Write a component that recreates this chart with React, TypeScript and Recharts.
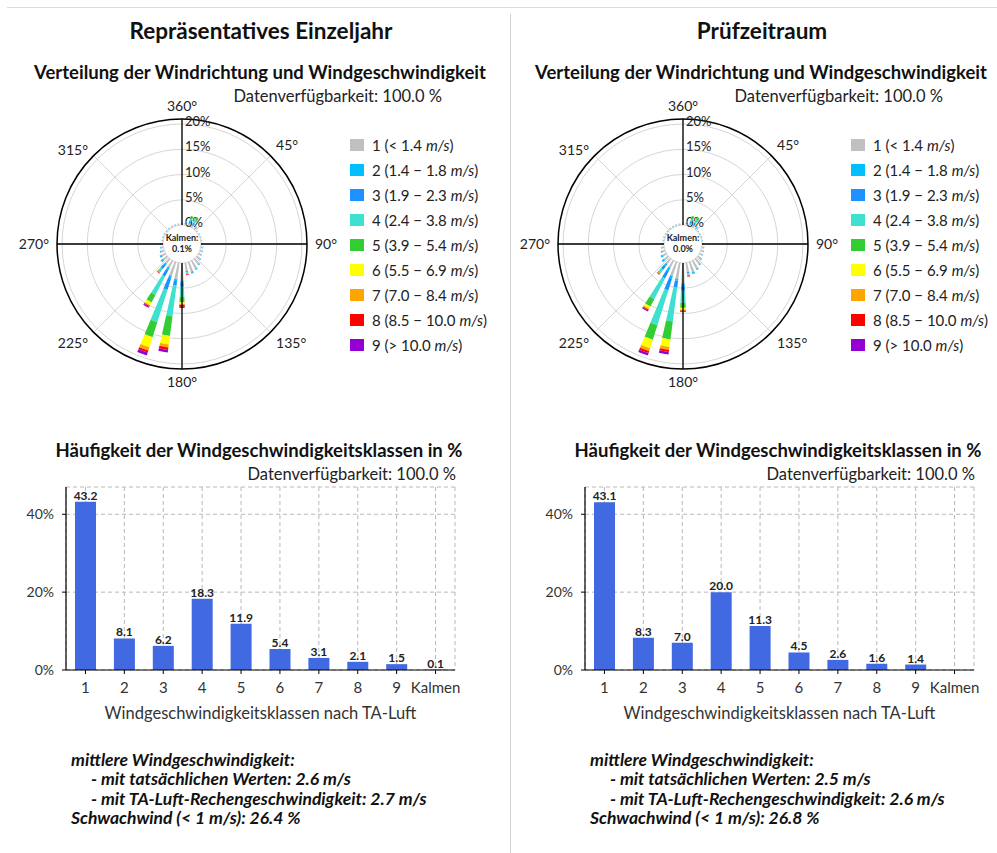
import React from 'react';
import {
  RadialBarChart, RadialBar, RadarChart, Radar, PolarAngleAxis, PolarRadiusAxis, PolarGrid,
  BarChart, Bar, XAxis, YAxis, CartesianGrid, LabelList,
} from 'recharts';

const FONT = 'Lato, "Open Sans", sans-serif';

const directions = [10, 20, 30, 40, 50, 60, 70, 80, 90, 100, 110, 120, 130, 140, 150, 160, 170, 180,
  190, 200, 210, 220, 230, 240, 250, 260, 270, 280, 290, 300, 310, 320, 330, 340, 350, 360];
const compassLabels = ['360°', '45°', '90°', '135°', '180°', '225°', '270°', '315°'];
const crossLabels = ['N', 'O', 'S', 'W'];
const radiusTicks = [0, 5, 10, 15, 20];
const classColors = ['#c0c0c0', '#00bfff', '#1e90ff', '#40e0d0', '#32cd32', '#ffff00', '#ffa500', '#ff0000', '#9400d3'];
const classRanges = ['< 1.4', '1.4 \u2212 1.8', '1.9 \u2212 2.3', '2.4 \u2212 3.8', '3.9 \u2212 5.4',
  '5.5 \u2212 6.9', '7.0 \u2212 8.4', '8.5 \u2212 10.0', '> 10.0'];
const classLabels = ['1', '2', '3', '4', '5', '6', '7', '8', '9', 'Kalmen'];

// Repräsentatives Einzeljahr: % per 10° sector and speed class
const ejS1 = [0.3, 0.4, 0.4, 0.3, 0.2, 0.2, 0.2, 0.2, 0.3, 0.4, 0.5, 0.6, 0.9, 1.4, 1.8, 2.0, 1.6, 3.5, 3.3, 2.9, 1.5, 1.2, 1.0, 0.8, 0.6, 0.5, 0.4, 0.3, 0.3, 0.3, 0.3, 0.3, 0.3, 0.3, 0.3, 0.3];
const ejS2 = [0.1, 0.2, 0.2, 0.1, 0.05, 0.05, 0.05, 0.05, 0.05, 0.1, 0.1, 0.1, 0.1, 0.15, 0.15, 0.2, 0.1, 0.4, 0.4, 0.5, 0.6, 0.5, 0.3, 0.3, 0.2, 0.1, 0.1, 0.05, 0.05, 0.05, 0.05, 0.05, 0.05, 0.05, 0.05, 0.05];
const ejS3 = [0.2, 0.4, 0.4, 0.1, 0, 0, 0, 0, 0, 0, 0, 0, 0.05, 0.05, 0.1, 0.1, 0.2, 0.8, 0.9, 2.4, 1.4, 0.8, 0.2, 0.15, 0.05, 0, 0, 0, 0, 0, 0, 0, 0, 0, 0, 0.05];
const ejS4 = [0.2, 0.6, 0.8, 0.2, 0, 0, 0, 0, 0, 0, 0, 0, 0, 0, 0, 0.05, 0.2, 2.0, 6.1, 6.7, 4.1, 0.6, 0.1, 0, 0, 0, 0, 0, 0, 0, 0, 0, 0, 0, 0, 0.05];
const ejS5 = [0.05, 0.5, 0.5, 0.05, 0, 0, 0, 0, 0, 0, 0, 0, 0, 0, 0, 0, 0, 1.1, 3.9, 3.1, 1.7, 0.2, 0, 0, 0, 0, 0, 0, 0, 0, 0, 0, 0, 0, 0, 0];
const ejS6 = [0, 0.05, 0.05, 0, 0, 0, 0, 0, 0, 0, 0, 0, 0, 0, 0, 0, 0, 0.3, 1.7, 2.1, 0.6, 0, 0, 0, 0, 0, 0, 0, 0, 0, 0, 0, 0, 0, 0, 0];
const ejS7 = [0, 0, 0, 0, 0, 0, 0, 0, 0, 0, 0, 0, 0, 0, 0, 0, 0.2, 0.2, 0.6, 0.7, 0.2, 0.2, 0, 0, 0, 0, 0, 0, 0, 0, 0, 0, 0, 0, 0, 0];
const ejS8 = [0, 0, 0, 0, 0, 0, 0, 0, 0, 0, 0, 0, 0, 0, 0, 0.05, 0.2, 0.4, 0.5, 0.4, 0.2, 0.1, 0, 0, 0, 0, 0, 0, 0, 0, 0, 0, 0, 0, 0, 0];
const ejS9 = [0, 0, 0, 0, 0, 0, 0, 0, 0, 0, 0, 0, 0, 0, 0, 0, 0, 0.2, 0.5, 0.6, 0.2, 0.05, 0, 0, 0, 0, 0, 0, 0, 0, 0, 0, 0, 0, 0, 0];
const ejFreq = [43.2, 8.1, 6.2, 18.3, 11.9, 5.4, 3.1, 2.1, 1.5, 0.1];

// Prüfzeitraum
const pzS1 = [0.3, 0.4, 0.4, 0.3, 0.2, 0.2, 0.2, 0.2, 0.3, 0.4, 0.5, 0.6, 0.9, 1.4, 1.8, 2.1, 1.8, 4.0, 3.2, 2.9, 1.6, 1.3, 1.0, 0.8, 0.6, 0.5, 0.4, 0.3, 0.3, 0.3, 0.3, 0.3, 0.3, 0.3, 0.3, 0.3];
const pzS2 = [0.1, 0.2, 0.2, 0.1, 0.05, 0.05, 0.05, 0.05, 0.05, 0.1, 0.1, 0.1, 0.1, 0.15, 0.15, 0.2, 0.1, 0.5, 0.4, 0.5, 0.7, 0.5, 0.3, 0.3, 0.2, 0.1, 0.1, 0.05, 0.05, 0.05, 0.05, 0.05, 0.05, 0.05, 0.05, 0.05];
const pzS3 = [0.2, 0.4, 0.4, 0.1, 0, 0, 0, 0, 0, 0, 0, 0, 0.05, 0.05, 0.1, 0.1, 0.3, 1.0, 1.3, 2.5, 1.6, 0.9, 0.2, 0.15, 0.05, 0, 0, 0, 0, 0, 0, 0, 0, 0, 0, 0.05];
const pzS4 = [0.2, 0.6, 0.8, 0.2, 0, 0, 0, 0, 0, 0, 0, 0, 0, 0, 0, 0.05, 0.2, 2.4, 6.8, 7.2, 4.6, 0.7, 0.1, 0, 0, 0, 0, 0, 0, 0, 0, 0, 0, 0, 0, 0.05];
const pzS5 = [0.05, 0.5, 0.5, 0.05, 0, 0, 0, 0, 0, 0, 0, 0, 0, 0, 0, 0, 0, 1.0, 3.6, 3.0, 1.7, 0.2, 0, 0, 0, 0, 0, 0, 0, 0, 0, 0, 0, 0, 0, 0];
const pzS6 = [0, 0.05, 0.05, 0, 0, 0, 0, 0, 0, 0, 0, 0, 0, 0, 0, 0, 0, 0.3, 1.5, 1.8, 0.5, 0, 0, 0, 0, 0, 0, 0, 0, 0, 0, 0, 0, 0, 0, 0];
const pzS7 = [0, 0, 0, 0, 0, 0, 0, 0, 0, 0, 0, 0, 0, 0, 0, 0, 0.2, 0.2, 0.6, 0.6, 0.2, 0.2, 0, 0, 0, 0, 0, 0, 0, 0, 0, 0, 0, 0, 0, 0];
const pzS8 = [0, 0, 0, 0, 0, 0, 0, 0, 0, 0, 0, 0, 0, 0, 0, 0.05, 0.2, 0.2, 0.4, 0.4, 0.2, 0.1, 0, 0, 0, 0, 0, 0, 0, 0, 0, 0, 0, 0, 0, 0];
const pzS9 = [0, 0, 0, 0, 0, 0, 0, 0, 0, 0, 0, 0, 0, 0, 0, 0, 0, 0.1, 0.5, 0.5, 0.2, 0.05, 0, 0, 0, 0, 0, 0, 0, 0, 0, 0, 0, 0, 0, 0];
const pzFreq = [43.1, 8.3, 7.0, 20.0, 11.3, 4.5, 2.6, 1.6, 1.4, 0.0];

const roseRows = (series: number[][]) =>
  directions.map((dir, i) => {
    const row: any = { dir };
    series.forEach((s, k) => { row[`c${k + 1}`] = s[i]; });
    return row;
  });
const compassRows = compassLabels.map((label) => ({ label, zero: 0 }));
const crossRows = crossLabels.map((label) => ({ label }));
const freqRows = (freq: number[]) => classLabels.map((label, i) => ({ label, value: freq[i] }));

const Txt = ({ x, y, align = 'center', style, children }: any) => (
  <div
    style={{
      position: 'absolute', left: x, top: y, whiteSpace: 'nowrap',
      transform: align === 'center' ? 'translate(-50%,-50%)' : align === 'right' ? 'translate(-100%,-50%)' : 'translate(0,-50%)',
      ...style,
    }}
  >
    {children}
  </div>
);

const radiusTick = (props: any) => (
  <text x={props.x + 3} y={props.y - 3} textAnchor="start" dominantBaseline="central"
    fontSize={13} fill="#222" fontFamily={FONT}>
    {props.payload.value}%
  </text>
);

const ROSE = { width: 340, height: 320, cx: 170, cy: 160, innerRadius: 19, outerRadius: 125 };
const R_MAX = 20.5;
const layer: React.CSSProperties = { position: 'absolute', left: 0, top: 0 };

const Rose = ({ rows }: { rows: any[] }) => (
  <div style={{ position: 'relative', width: ROSE.width, height: ROSE.height }}>
    <div style={layer}>
      <RadarChart {...ROSE} data={compassRows} startAngle={90} endAngle={-270}>
        <PolarGrid gridType="circle" stroke="#d6d6d6" />
        <PolarAngleAxis dataKey="label" axisLineType="circle" axisLine={{ stroke: '#000', strokeWidth: 1.5 }}
          tickLine={false} tick={{ fontSize: 14, fill: '#222', fontFamily: FONT }} />
        <PolarRadiusAxis angle={90} domain={[0, R_MAX]} ticks={radiusTicks} tickCount={5} axisLine={false} tick={radiusTick} />
        <Radar dataKey="zero" stroke="none" fill="none" isAnimationActive={false} />
      </RadarChart>
    </div>
    <div style={layer}>
      <RadialBarChart {...ROSE} data={rows} layout="centric" startAngle={75} endAngle={-285} barCategoryGap="25%">
        <PolarAngleAxis dataKey="dir" type="category" tick={false} axisLine={false} tickLine={false} />
        <PolarRadiusAxis type="number" domain={[0, R_MAX]} tick={false} axisLine={false} />
        {classColors.map((c, k) => (
          <RadialBar key={k} dataKey={`c${k + 1}`} stackId="s" fill={c} isAnimationActive={false} />
        ))}
      </RadialBarChart>
    </div>
    <div style={layer}>
      <RadarChart {...ROSE} data={crossRows} startAngle={90} endAngle={-270}>
        <PolarGrid gridType="circle" polarRadius={[]} stroke="#000" strokeWidth={1.3} />
      </RadarChart>
    </div>
  </div>
);

const FreqChart = ({ rows }: { rows: any[] }) => (
  <BarChart width={480} height={260} data={rows} margin={{ top: 17, right: 25, bottom: 0, left: 0 }}>
    <CartesianGrid stroke="#b8b8b8" strokeDasharray="4 3" />
    <XAxis dataKey="label" interval={0} height={60} tickSize={4} tickMargin={8}
      axisLine={{ stroke: '#000', strokeWidth: 1.2 }} tickLine={{ stroke: '#000' }}
      tick={{ fontSize: 15, fill: '#333', fontFamily: FONT }}
      label={{ value: 'Windgeschwindigkeitsklassen nach TA-Luft', position: 'insideBottom', offset: 11,
        fontSize: 16.5, fill: '#333', fontFamily: FONT }} />
    <XAxis xAxisId="top" orientation="top" dataKey="label" height={0} tick={false} tickLine={false}
      axisLine={{ stroke: '#000', strokeWidth: 1.2 }} />
    <YAxis domain={[0, 47]} ticks={[0, 20, 40]} width={66} tickSize={4} tickMargin={8}
      tickFormatter={(v: number) => `${v}%`}
      axisLine={{ stroke: '#000', strokeWidth: 1.2 }} tickLine={{ stroke: '#000' }}
      tick={{ fontSize: 14, fill: '#333', fontFamily: FONT }} />
    <YAxis yAxisId="right" orientation="right" domain={[0, 47]} width={0} tick={false} tickLine={false}
      axisLine={{ stroke: '#000', strokeWidth: 1.2 }} />
    <Bar dataKey="value" fill="#4169e1" barSize={21} isAnimationActive={false}>
      <LabelList dataKey="value" position="top" offset={2} formatter={(v: any) => Number(v).toFixed(1)}
        style={{ fontSize: 12, fontWeight: 700, fill: '#222', fontFamily: FONT }} />
    </Bar>
  </BarChart>
);

const Panel = ({ dx, bx, title, series, kalmen, freq, speedReal, speedTA, weak }: any) => (
  <>
    <Txt x={dx + 261} y={30} style={{ fontSize: 22.5, fontWeight: 700 }}>{title}</Txt>
    <Txt x={dx + 260} y={72} style={{ fontSize: 18.5, fontWeight: 700 }}>
      Verteilung der Windrichtung und Windgeschwindigkeit
    </Txt>
    <Txt x={dx + 442} y={96} align="right" style={{ fontSize: 16.5, color: '#222' }}>Datenverfügbarkeit: 100.0 %</Txt>
    <div style={{ position: 'absolute', left: dx + 12, top: 84 }}>
      <Rose rows={roseRows(series)} />
    </div>
    <Txt x={dx + 182} y={237} style={{ fontSize: 9, fontWeight: 700, color: '#222' }}>Kalmen:</Txt>
    <Txt x={dx + 182} y={248} style={{ fontSize: 9, fontWeight: 700, color: '#222' }}>{kalmen}</Txt>
    {classColors.map((c, k) => (
      <div key={k} style={{ position: 'absolute', left: dx + 350, top: 145 + k * 25, transform: 'translateY(-50%)',
        display: 'flex', alignItems: 'center', fontSize: 15, color: '#222', whiteSpace: 'nowrap' }}>
        <span style={{ display: 'inline-block', width: 14, height: 12, background: c, marginRight: 8 }} />
        <span>{k + 1} ({classRanges[k]} <i>m/s</i>)</span>
      </div>
    ))}
    <Txt x={bx + 259} y={450} style={{ fontSize: 18.5, fontWeight: 700 }}>
      Häufigkeit der Windgeschwindigkeitsklassen in %
    </Txt>
    <Txt x={bx + 456} y={474} align="right" style={{ fontSize: 16.5, color: '#222' }}>Datenverfügbarkeit: 100.0 %</Txt>
    <div style={{ position: 'absolute', left: bx, top: 470 }}>
      <FreqChart rows={freqRows(freq)} />
    </div>
    <div style={{ position: 'absolute', left: bx + 71, top: 750, fontSize: 17.5, fontWeight: 700,
      fontStyle: 'italic', lineHeight: '19.3px', color: '#111' }}>
      <div>mittlere Windgeschwindigkeit:</div>
      <div style={{ paddingLeft: 20 }}>- mit tatsächlichen Werten: {speedReal} m/s</div>
      <div style={{ paddingLeft: 20 }}>- mit TA-Luft-Rechengeschwindigkeit: {speedTA} m/s</div>
      <div>Schwachwind (&lt; 1 m/s): {weak} %</div>
    </div>
  </>
);

export default function App() {
  return (
    <div style={{ position: 'absolute', left: 0, top: 0, width: 997, height: 853, background: '#fff',
      fontFamily: FONT, color: '#111', overflow: 'hidden' }}>
      <div style={{ position: 'absolute', left: 7, top: 7, width: 990, height: 1, background: '#dcdcdc' }} />
      <div style={{ position: 'absolute', left: 510, top: 14, width: 1, height: 839, background: '#d0d0d0' }} />
      <Panel dx={0} bx={0} title="Repräsentatives Einzeljahr"
        series={[ejS1, ejS2, ejS3, ejS4, ejS5, ejS6, ejS7, ejS8, ejS9]} kalmen="0.1%" freq={ejFreq}
        speedReal="2.6" speedTA="2.7" weak="26.4" />
      <Panel dx={501} bx={519} title="Prüfzeitraum"
        series={[pzS1, pzS2, pzS3, pzS4, pzS5, pzS6, pzS7, pzS8, pzS9]} kalmen="0.0%" freq={pzFreq}
        speedReal="2.5" speedTA="2.6" weak="26.8" />
    </div>
  );
}
